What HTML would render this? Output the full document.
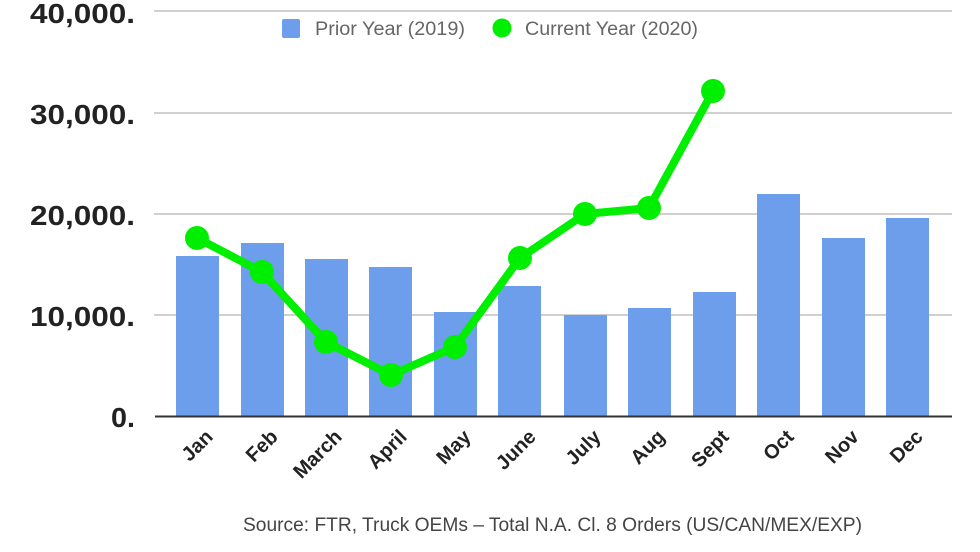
<!DOCTYPE html>
<html><head><style>body{margin:0;background:#fff}svg{display:block}</style></head><body>
<svg width="980" height="552" xmlns="http://www.w3.org/2000/svg" font-family="Liberation Sans, sans-serif">
<g stroke="#d0d0d0" stroke-width="2">
<line x1="154" y1="11" x2="952" y2="11"/><line x1="154" y1="113" x2="952" y2="113"/><line x1="154" y1="214" x2="952" y2="214"/><line x1="154" y1="315" x2="952" y2="315"/>
</g>
<g font-size="28" font-weight="bold" fill="#222">
<text x="30" y="23" textLength="105" lengthAdjust="spacingAndGlyphs">40,000.</text>
<text x="30" y="124" textLength="105" lengthAdjust="spacingAndGlyphs">30,000.</text>
<text x="30" y="225" textLength="105" lengthAdjust="spacingAndGlyphs">20,000.</text>
<text x="30" y="326" textLength="105" lengthAdjust="spacingAndGlyphs">10,000.</text>
<text x="111" y="427" textLength="24" lengthAdjust="spacingAndGlyphs">0.</text>
</g>
<g fill="#6d9eeb">
<rect x="176" y="256" width="43" height="160"/><rect x="241" y="243" width="43" height="173"/><rect x="305" y="259" width="43" height="157"/><rect x="369" y="267" width="43" height="149"/><rect x="434" y="312" width="43" height="104"/><rect x="498" y="286" width="43" height="130"/><rect x="564" y="315" width="43" height="101"/><rect x="628" y="308" width="43" height="108"/><rect x="693" y="292" width="43" height="124"/><rect x="757" y="194" width="43" height="222"/><rect x="822" y="238" width="43" height="178"/><rect x="886" y="218" width="43" height="198"/>
</g>
<line x1="155" y1="416.5" x2="952" y2="416.5" stroke="#333" stroke-width="2"/>
<polyline points="197,238 262,272 326,342 391,375 455,347 520,258 585,214 649,208 713,91" fill="none" stroke="#00ee00" stroke-width="8" stroke-linejoin="round"/>
<g fill="#00ee00">
<circle cx="197" cy="238" r="12"/><circle cx="262" cy="272" r="12"/><circle cx="326" cy="342" r="12"/><circle cx="391" cy="375" r="12"/><circle cx="455" cy="347" r="12"/><circle cx="520" cy="258" r="12"/><circle cx="585" cy="214" r="12"/><circle cx="649" cy="208" r="12"/><circle cx="713" cy="91" r="12"/>
</g>
<rect x="282" y="19" width="18" height="19" rx="2" fill="#6d9eeb"/>
<text x="315" y="35" font-size="19" fill="#666" textLength="150" lengthAdjust="spacingAndGlyphs">Prior Year (2019)</text>
<circle cx="502" cy="28" r="9.5" fill="#00ee00"/>
<text x="525" y="35" font-size="19" fill="#666" textLength="173" lengthAdjust="spacingAndGlyphs">Current Year (2020)</text>
<g font-size="20" font-weight="bold" fill="#222" text-anchor="end">
<text transform="translate(214,438) rotate(-45)">Jan</text>
<text transform="translate(279,438) rotate(-45)">Feb</text>
<text transform="translate(343,438) rotate(-45)">March</text>
<text transform="translate(408,438) rotate(-45)">April</text>
<text transform="translate(472,438) rotate(-45)">May</text>
<text transform="translate(537,438) rotate(-45)">June</text>
<text transform="translate(602,438) rotate(-45)">July</text>
<text transform="translate(666,438) rotate(-45)">Aug</text>
<text transform="translate(730,438) rotate(-45)">Sept</text>
<text transform="translate(795,438) rotate(-45)">Oct</text>
<text transform="translate(860,438) rotate(-45)">Nov</text>
<text transform="translate(924,438) rotate(-45)">Dec</text>
</g>
<text x="243" y="531" font-size="19" fill="#444" textLength="619" lengthAdjust="spacingAndGlyphs">Source: FTR, Truck OEMs – Total N.A. Cl. 8 Orders (US/CAN/MEX/EXP)</text>
</svg>
</body></html>
